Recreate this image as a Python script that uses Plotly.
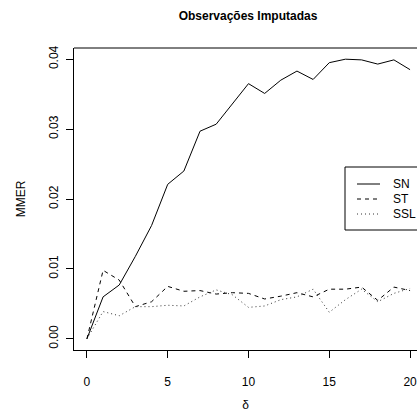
import plotly.graph_objects as go

# delta grid and MMER for each imputation model
delta = list(range(0, 21))
mmer_sn = [0.0, 0.0060, 0.0077, 0.0118, 0.0162, 0.0221, 0.0240, 0.0297, 0.0307, 0.0336, 0.0365,
           0.0351, 0.0370, 0.0383, 0.0371, 0.0395, 0.0400, 0.0399, 0.0393, 0.0399, 0.0385]
mmer_st = [0.0, 0.0098, 0.0084, 0.0046, 0.0053, 0.0075, 0.0068, 0.0069, 0.0064, 0.0066, 0.0065,
           0.0057, 0.0061, 0.0066, 0.0060, 0.0071, 0.0071, 0.0074, 0.0055, 0.0074, 0.0069]
mmer_ssl = [0.0, 0.0039, 0.0033, 0.0046, 0.0046, 0.0048, 0.0047, 0.0060, 0.0070, 0.0063, 0.0045,
            0.0047, 0.0056, 0.0060, 0.0071, 0.0038, 0.0056, 0.0071, 0.0053, 0.0065, 0.0072]
series_names = ["SN", "ST", "SSL"]

x_ticks = [0, 5, 10, 15, 20]
y_ticks = [0.00, 0.01, 0.02, 0.03, 0.04]
y_tick_text = ["0.00", "0.01", "0.02", "0.03", "0.04"]

FONT = "Liberation Sans, Arial, sans-serif"
W, H = 417, 412
ML, MT, MB = 74, 48, 62
PW, PH = W - ML, H - MT - MB

styles = [
    dict(color="black", width=1, dash="solid"),
    dict(color="black", width=1, dash="4px,4px"),
    dict(color="#333333", width=1, dash="1px,3px"),
]

fig = go.Figure()
for name, vals, st in zip(series_names, [mmer_sn, mmer_st, mmer_ssl], styles):
    fig.add_trace(go.Scatter(x=delta, y=vals, name=name, mode="lines", line=st,
                             showlegend=False))


def px_x(p):
    return (p - ML) / PW


def px_y(p):
    return (MT + PH - p) / PH


# legend box in the R style: framed, running past the right edge
fig.add_shape(type="rect", xref="paper", yref="paper",
              x0=px_x(345), x1=px_x(430), y0=px_y(230), y1=px_y(167),
              line=dict(color="black", width=1), fillcolor="white", layer="above")
for i, (name, st) in enumerate(zip(series_names, styles)):
    ry = 184 + i * 15
    fig.add_shape(type="line", xref="paper", yref="paper",
                  x0=px_x(357), x1=px_x(380), y0=px_y(ry), y1=px_y(ry),
                  line=st, layer="above")
    fig.add_annotation(text=name, xref="paper", yref="paper", x=px_x(391), y=px_y(ry),
                       xanchor="left", yanchor="middle", showarrow=False,
                       font=dict(family=FONT, size=12, color="black"))

fig.update_layout(
    width=W, height=H,
    margin=dict(l=ML, r=0, t=MT, b=MB),
    paper_bgcolor="white", plot_bgcolor="white",
    font=dict(family=FONT, size=12, color="black"),
    title=dict(text="<b>Observações Imputadas</b>", x=248 / W, xanchor="center",
               y=1 - 16 / H, yanchor="middle", yref="container",
               font=dict(family=FONT, size=12, color="black")),
    showlegend=False,
)

fig.update_xaxes(range=[-0.8, 20.43], tickvals=x_ticks, ticks="outside", ticklen=7,
                 tickcolor="black", showline=True, linecolor="black", linewidth=1,
                 mirror=False, showgrid=False, zeroline=False,
                 ticklabelstandoff=14, ticklabeloverflow="allow",
                 title=dict(text="δ", font=dict(family=FONT, size=12), standoff=14),
                 tickfont=dict(family=FONT, size=12))
fig.update_yaxes(range=[-0.0016, 0.0416], tickvals=y_ticks, ticktext=y_tick_text,
                 ticks="outside", ticklen=7, tickcolor="black", tickangle=-90,
                 showline=True, linecolor="black", linewidth=1, mirror=False,
                 showgrid=False, zeroline=False, ticklabelstandoff=3,
                 title=dict(text="MMER", font=dict(family=FONT, size=12), standoff=19),
                 tickfont=dict(family=FONT, size=12))

# top edge of the plot box
fig.add_shape(type="line", xref="paper", yref="paper", x0=0, x1=1, y0=1, y1=1,
              line=dict(color="black", width=1))

fig.write_html("out.html")
